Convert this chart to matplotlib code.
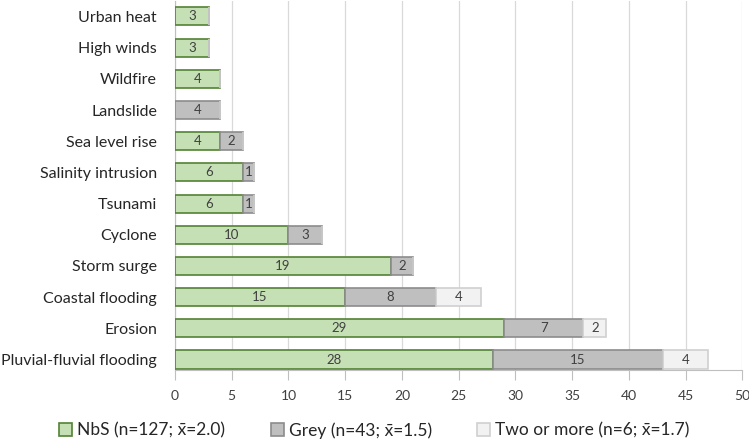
import matplotlib.pyplot as plt
import numpy as np

plt.rcParams["font.family"] = ["Lato", "DejaVu Sans"]

hazards = [
    "Urban heat", "High winds", "Wildfire", "Landslide", "Sea level rise",
    "Salinity intrusion", "Tsunami", "Cyclone", "Storm surge",
    "Coastal flooding", "Erosion", "Pluvial-fluvial flooding",
]
nbs = [3, 3, 4, 0, 4, 6, 6, 10, 19, 15, 29, 28]
grey = [0, 0, 0, 4, 2, 1, 1, 3, 2, 8, 7, 15]
two_or_more = [0, 0, 0, 0, 0, 0, 0, 0, 0, 4, 2, 4]

series = [
    ("NbS (n=127; x\u0304=2.0)", nbs, "#c5e0b4", "#548235"),
    ("Grey (n=43; x\u0304=1.5)", grey, "#bfbfbf", "#8c8c8c"),
    ("Two or more (n=6; x\u0304=1.7)", two_or_more, "#f2f2f2", "#d0d0d0"),
]

fig = plt.figure(figsize=(7.49, 4.41), dpi=100)
ax = fig.add_axes([0.2336, 0.1621, 0.7575, 0.836])

y = np.arange(len(hazards))
left = np.zeros(len(hazards))
for label, vals, fc, ec in series:
    vals = np.array(vals, dtype=float)
    bars = ax.barh(y, vals, left=left, height=0.58, color=fc, edgecolor=ec,
                   linewidth=1.2, label=label, zorder=3)
    for b, v in zip(bars, vals):
        if v > 0:
            ax.text(b.get_x() + b.get_width() / 2, b.get_y() + b.get_height() / 2,
                    f"{int(v)}", ha="center", va="center", fontsize=9.5,
                    color="#404040", zorder=4)
    left += vals

ax.set_ylim(11.32, -0.5)
ax.set_yticks(y)
ax.set_yticklabels(hazards, fontsize=11.5, color="#262626")
ax.set_xlim(0, 50)
ax.set_xticks(np.arange(0, 51, 5))
ax.tick_params(axis="x", labelsize=10, labelcolor="#404040", color="#bfbfbf",
               length=7, pad=8)
ax.tick_params(axis="y", length=0, pad=13)
ax.grid(axis="x", color="#d9d9d9", linewidth=0.9, zorder=0)
for s in ["top", "right"]:
    ax.spines[s].set_visible(False)
for s in ["left", "bottom"]:
    ax.spines[s].set_color("#bfbfbf")

fig.legend(loc="center", bbox_to_anchor=(0.5, 0.024), ncol=3, frameon=False,
           fontsize=12.5, handlelength=0.75, handleheight=0.75, handletextpad=0.3,
           columnspacing=2.6, labelcolor="#262626", borderaxespad=0)

fig.savefig("out.png", dpi=100)
plt.close(fig)
